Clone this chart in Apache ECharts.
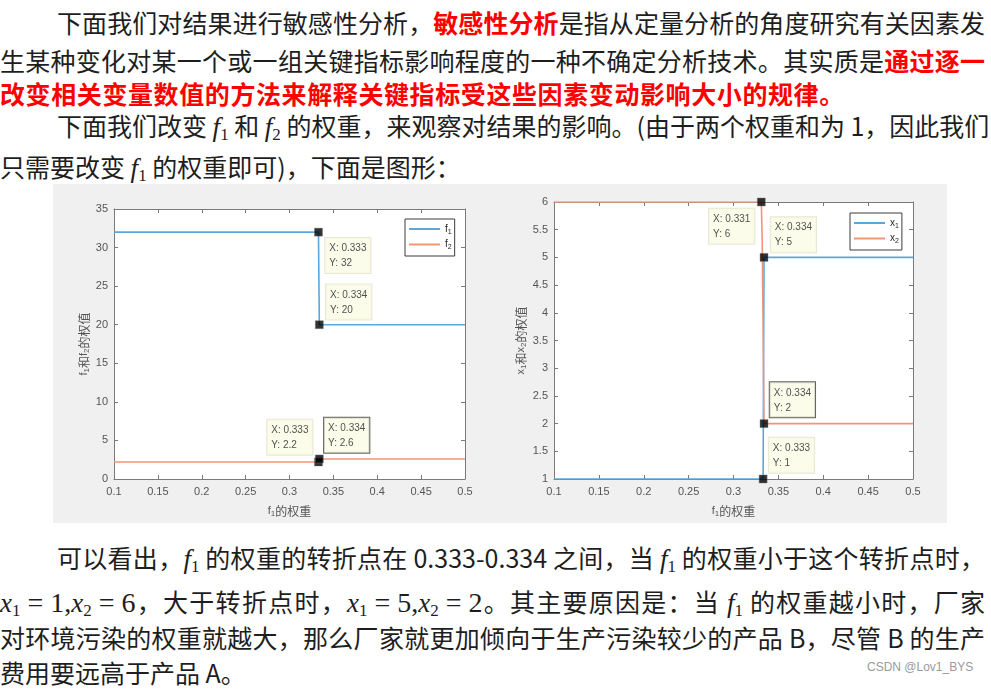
<!DOCTYPE html>
<html lang="zh">
<head>
<meta charset="UTF-8">
<title>敏感性分析</title>
<script src="https://cdn.jsdelivr.net/npm/echarts@6/dist/echarts.min.js"></script>
<style>
    body{margin:0;width:991px;height:689px;background:#fff;position:relative;overflow:hidden;
         font-family:"Noto Sans CJK SC",sans-serif;color:#1e1e1e;}
    .ln{position:absolute;left:0;width:985px;height:30px;line-height:30px;font-size:25px;white-space:nowrap;}
    .ind{left:57px;width:928px;}
    .j{text-align:justify;text-align-last:justify;}
    .red{color:#f00;font-weight:bold;}
    .m{font-family:"Liberation Serif","DejaVu Serif",serif;font-style:italic;font-size:27px;}
    .m sub{font-style:normal;font-size:17px;vertical-align:-4px;}
    .n{font-family:"Liberation Serif","DejaVu Serif",serif;font-size:28px;}
    .eq{margin:0 7px;}
    #mark{position:absolute;left:867px;top:660px;font-size:12px;color:#9a9a9a;font-family:"Liberation Sans",sans-serif;}
    #main{position:absolute;left:53px;top:184px;width:894px;height:339px;}
</style>
</head>
<body>
<div class="ln ind j" style="top:7px;">下面我们对结果进行敏感性分析，<span class="red">敏感性分析</span>是指从定量分析的角度研究有关因素发</div>
<div class="ln j" style="top:45px;">生某种变化对某一个或一组关键指标影响程度的一种不确定分析技术。其实质是<span class="red">通过逐一</span></div>
<div class="ln red" style="top:78px;letter-spacing:0.6px;">改变相关变量数值的方法来解释关键指标受这些因素变动影响大小的规律。</div>
<div class="ln ind j" style="top:110px;">下面我们改变 <span class="m">f<sub>1</sub></span> 和 <span class="m">f<sub>2</sub></span> 的权重，来观察对结果的影响。(由于两个权重和为 1，因此我们</div>
<div class="ln" style="top:151px;">只需要改变 <span class="m">f<sub>1</sub></span> 的权重即可)，下面是图形：</div>

<div id="main"></div>

<div class="ln ind j" style="top:542px;">可以看出，<span class="m">f<sub>1</sub></span> 的权重的转折点在 0.333-0.334 之间，当 <span class="m">f<sub>1</sub></span> 的权重小于这个转折点时，</div>
<div class="ln j" style="top:586px;"><span class="m">x<sub>1</sub></span><span class="n eq">=</span><span class="n">1,</span><span class="m">x<sub>2</sub></span><span class="n eq">=</span><span class="n">6</span>，大于转折点时，<span class="m">x<sub>1</sub></span><span class="n eq">=</span><span class="n">5,</span><span class="m">x<sub>2</sub></span><span class="n eq">=</span><span class="n">2</span>。其主要原因是：当 <span class="m">f<sub>1</sub></span> 的权重越小时，厂家</div>
<div class="ln j" style="top:622px;">对环境污染的权重就越大，那么厂家就更加倾向于生产污染较少的产品 B，尽管 B 的生产</div>
<div class="ln" style="top:657px;">费用要远高于产品 A。</div>
<div id="mark">CSDN @Lov1_BYS</div>

<script>
    // f1 权重 (横轴)
    var weightMin = 0.1, weightMax = 0.5, weightStep = 0.05;

    // 左图: 目标函数值 f1, f2
    var f1Data = [[0.1, 32], [0.333, 32], [0.334, 20], [0.5, 20]];
    var f2Data = [[0.1, 2.2], [0.333, 2.2], [0.334, 2.6], [0.5, 2.6]];
    var leftTips = [[0.333, 32], [0.334, 20], [0.333, 2.2], [0.334, 2.6]];

    // 右图: 决策变量 x1, x2
    var x1Data = [[0.1, 1], [0.333, 1], [0.334, 5], [0.5, 5]];
    var x2Data = [[0.1, 6], [0.331, 6], [0.332, 5.3], [0.333, 5.3], [0.334, 2], [0.5, 2]];
    var rightTips = [[0.331, 6], [0.334, 5], [0.334, 2], [0.333, 1]];

    var BLUE = '#5ba6dd', ORANGE = '#ee9678';
    var AXIS = '#7a7a7a', LABEL = '#555';
    var FONT = '"Liberation Sans", Arial, sans-serif';
    var CJK = '"Noto Sans CJK SC", sans-serif';

    var subRich = {
        v: {fontSize: 11, fontFamily: FONT, color: LABEL},
        s: {fontSize: 8, fontFamily: FONT, color: LABEL, padding: [6, 0, 0, 0]},
        c: {fontSize: 12, fontFamily: CJK, color: LABEL}
    };

    function axes(gi, yMin, yMax, yStep, xName, yName, yGap){
        var tick = {show: true, inside: true, length: 4, lineStyle: {color: AXIS}};
        var line = {show: true, onZero: false, lineStyle: {color: AXIS, width: 1}};
        var xs = [{
            gridIndex: gi, type: 'value', position: 'bottom',
            min: weightMin, max: weightMax, interval: weightStep,
            axisLine: line, axisTick: tick, splitLine: {show: false},
            axisLabel: {color: LABEL, fontSize: 11, fontFamily: FONT, margin: 7},
            name: xName, nameLocation: 'middle', nameGap: 25,
            nameTextStyle: {rich: subRich}
        }, {
            gridIndex: gi, type: 'value', position: 'top',
            min: weightMin, max: weightMax, interval: weightStep,
            axisLine: line, axisTick: tick, axisLabel: {show: false}, splitLine: {show: false}
        }];
        var ys = [{
            gridIndex: gi, type: 'value', position: 'left',
            min: yMin, max: yMax, interval: yStep,
            axisLine: line, axisTick: tick, splitLine: {show: false},
            axisLabel: {color: LABEL, fontSize: 11, fontFamily: FONT, margin: 6},
            name: yName, nameLocation: 'middle', nameRotate: 90, nameGap: yGap,
            nameTextStyle: {rich: subRich}
        }, {
            gridIndex: gi, type: 'value', position: 'right',
            min: yMin, max: yMax, interval: yStep,
            axisLine: line, axisTick: tick, axisLabel: {show: false}, splitLine: {show: false}
        }];
        return {x: xs, y: ys};
    }

    var A = axes(0, 0, 35, 5, '{v|f}{s|1}{c|的权重}', '{v|f}{s|1}{c|和}{v|f}{s|2}{c|的权值}', 23);
    var B = axes(1, 1, 6, 0.5, '{v|f}{s|1}{c|的权重}', '{v|x}{s|1}{c|和}{v|x}{s|2}{c|的权值}', 26);

    function curve(name, data, color, xi, yi){
        return {
            name: name, type: 'line', data: data, xAxisIndex: xi, yAxisIndex: yi,
            symbol: 'none', color: color, lineStyle: {width: 1.6, color: color},
            animation: false, z: 2
        };
    }

    // 数据游标标签的位置
    var leftPlace = [
        {position: [11, 10], verticalAlign: 'top'},
        {position: [11, -1], verticalAlign: 'bottom'},
        {position: [-47, -3], verticalAlign: 'bottom'},
        {position: [9, -2], verticalAlign: 'bottom', borderColor: '#3c3c3c'}
    ];
    var rightPlace = [
        {position: [-48, 11], verticalAlign: 'top'},
        {position: [11, -1], verticalAlign: 'bottom'},
        {position: [10, -2], verticalAlign: 'bottom', borderColor: '#3c3c3c'},
        {position: [10, -2], verticalAlign: 'bottom'}
    ];

    function tips(data, place, xi, yi){
        return {
            type: 'scatter', xAxisIndex: xi, yAxisIndex: yi, animation: false, z: 5,
            symbol: 'rect', symbolSize: 8,
            itemStyle: {color: '#000', borderColor: '#777', borderWidth: 0.5},
            data: data.map(function(v, k){ return {value: v, label: place[k]}; }),
            label: {
                show: true, align: 'left', fontSize: 10, fontFamily: FONT, color: '#262626', lineHeight: 15,
                backgroundColor: '#fbfbe6', borderColor: '#e2e2cc', borderWidth: 1,
                padding: [3, 4, 2, 4],
                formatter: function(p){ return 'X: ' + p.value[0] + '\nY: ' + p.value[1]; }
            }
        };
    }

    function legend(names, left, top){
        return {
            data: names, left: left, top: top, orient: 'vertical',
            icon: 'rect', itemWidth: 31, itemHeight: 2, itemGap: 4,
            backgroundColor: '#fff', borderColor: '#3c3c3c', borderWidth: 1,
            padding: [5, 3, 5, 4],
            formatter: function(n){ return '{v|' + n.charAt(0) + '}{s|' + n.charAt(1) + '}'; },
            textStyle: {rich: {
                v: {fontSize: 10, fontFamily: FONT, color: '#262626'},
                s: {fontSize: 7, fontFamily: FONT, color: '#262626', padding: [6, 0, 0, 0]}
            }},
            selectedMode: false
        };
    }

    var myCharts = echarts.init(document.getElementById('main'));
    var option = {
        backgroundColor: '#f0f0f0',
        animation: false,
        grid: [
            {left: 61, top: 25, width: 351, height: 274, show: true, backgroundColor: '#fff', borderWidth: 0},
            {left: 501, top: 18, width: 359, height: 281, show: true, backgroundColor: '#fff', borderWidth: 0}
        ],
        xAxis: A.x.concat(B.x),
        yAxis: A.y.concat(B.y),
        legend: [legend(['f1', 'f2'], 352, 35), legend(['x1', 'x2'], 797, 29)],
        series: [
            curve('f1', f1Data, BLUE, 0, 0),
            curve('f2', f2Data, ORANGE, 0, 0),
            tips(leftTips, leftPlace, 0, 0),
            curve('x1', x1Data, BLUE, 2, 2),
            curve('x2', x2Data, ORANGE, 2, 2),
            tips(rightTips, rightPlace, 2, 2)
        ]
    };
    myCharts.setOption(option);
</script>
</body>
</html>
